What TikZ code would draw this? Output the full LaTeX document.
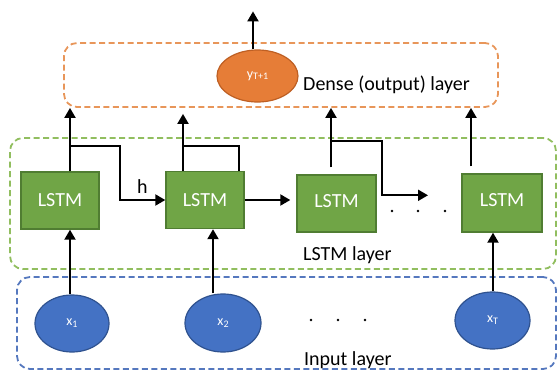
\documentclass[tikz,border=0pt]{standalone}
\usepackage{fontspec}
\setmainfont{Carlito}
\usetikzlibrary{arrows.meta,calc,shapes.geometric}
\definecolor{orfill}{RGB}{230,125,55}
\definecolor{ordraw}{RGB}{190,95,35}
\definecolor{ordash}{RGB}{232,150,90}
\definecolor{grfill}{RGB}{112,165,70}
\definecolor{grdraw}{RGB}{80,125,50}
\definecolor{grdash}{RGB}{145,190,95}
\definecolor{blfill}{RGB}{68,114,196}
\definecolor{bldraw}{RGB}{47,82,143}
\definecolor{bldash}{RGB}{85,120,190}
\begin{document}
\begin{tikzpicture}[x=1pt,y=-1pt,
  bigfont/.style={font=\fontsize{20}{24}\selectfont},
  layerbox/.style={rectangle, rounded corners=13pt, line width=1.8pt,
    dash pattern=on 6pt off 3.5pt, inner sep=0pt},
  lstmbox/.style={rectangle, draw=grdraw, fill=grfill, line width=1.4pt,
    minimum width=78pt, minimum height=57pt, inner sep=0pt, text=white, bigfont},
  inell/.style={ellipse, draw=bldraw, fill=blfill, line width=1.2pt, inner sep=0pt,
    minimum width=75pt, minimum height=57pt, text=white, font=\fontsize{14}{16}\selectfont},
  subs/.style={},
  lbl/.style={bigfont, inner sep=0pt, anchor=base west},
  conn/.style={line width=2pt},
  arr/.style={line width=2pt, -{Triangle[length=10pt,width=11pt]}},
  dotmark/.style={fill=black}
]
\useasboundingbox (0,0) rectangle (557,372);
% layer boxes
\node[layerbox, draw=ordash, minimum width=434pt, minimum height=64pt] (dense) at (281,75) {};
\node[layerbox, draw=grdash, minimum width=546pt, minimum height=131pt] (lstmlayer) at (283,203.5) {};
\node[layerbox, draw=bldash, minimum width=539pt, minimum height=92pt] (inlayer) at (286.5,323) {};
% labels
\node[lbl] (ldense) at (303,90) {Dense (output) layer};
\node[lbl] (llstm) at (303,260) {LSTM layer};
\node[lbl] (linput) at (304,365) {Input layer};
% output
\node[ellipse, draw=ordraw, fill=orfill, line width=1.2pt, inner sep=0pt,
  minimum width=81pt, minimum height=52pt, text=white,
  font=\fontsize{14}{16}\selectfont] (y) at (257.5,76)
  {y{\fontsize{10}{11}\selectfont\raisebox{-1.5pt}{T+1}}};
% LSTM cells
\node[lstmbox] (L1) at (60,200.5) {LSTM};
\node[lstmbox] (L2) at (205,200) {LSTM};
\node[lstmbox, minimum width=79pt] (L3) at (336.5,203.5) {\raisebox{5pt}{LSTM}};
\node[lstmbox, minimum width=80pt, minimum height=58pt] (L4) at (502,203) {\raisebox{5pt}{LSTM}};
% inputs
\node[inell, minimum width=74pt] (x1) at (72,323.5) {x{\fontsize{10}{11}\selectfont\raisebox{-2pt}{1}}};
\node[inell, minimum width=76pt, minimum height=58pt] (x2) at (223,323) {x{\fontsize{10}{11}\selectfont\raisebox{-2pt}{2}}};
\node[inell] (xT) at (492.5,320.5) {x{\fontsize{10}{11}\selectfont\raisebox{-2pt}{T}}};
% dots
\foreach \px in {392,418,445} \fill[dotmark] (\px,211) circle (1.4pt);
\foreach \px in {311,338,365} \fill[dotmark] (\px,320) circle (1.4pt);
% input arrows
\draw[arr] ([xshift=-2pt]x1.north) -- ([xshift=-2pt]x1.north |- L1.south);
\draw[arr] ([xshift=-10pt]x2.north) -- ([xshift=-10pt]x2.north |- L2.south);
\draw[arr] ([xshift=0.5pt]xT.north) -- ([xshift=0.5pt]xT.north |- L4.south);
% LSTM to dense
\draw[arr] ([xshift=10pt]L1.north) -- ([xshift=10pt]L1.north |- dense.south);
\draw[arr, shorten >=6pt] ([xshift=-22pt]L2.north) -- ([xshift=-22pt]L2.north |- dense.south);
\draw[arr] ([xshift=-5.5pt,yshift=7pt]L3.north) -- ([xshift=-5.5pt]L3.north |- dense.south);
\draw[arr] ([xshift=-31pt,yshift=7pt]L4.north) -- ([xshift=-31pt]L4.north |- dense.south);
% recurrent connections
\draw[arr] ([xshift=10pt,yshift=25pt]L1.north) -- ++(50,0) |- (L2.west);
\node[lbl] (h) at (137,193) {h};
\draw[conn] ([xshift=34pt]L2.north) -- ([xshift=34pt,yshift=25pt]L2.north) -- ([xshift=-22pt,yshift=25pt]L2.north);
\draw[arr, shorten >=6pt] (L2.east) -- (L2.east -| L3.west);
\draw[arr] ([xshift=-5.5pt,yshift=33pt]L3.north) -- ++(51,0) -- ++(0,54) -- ++(46,0);
% output arrow
\draw[arr] ([xshift=-4.5pt]y.north) -- ++(0,-38);
\end{tikzpicture}
\end{document}
